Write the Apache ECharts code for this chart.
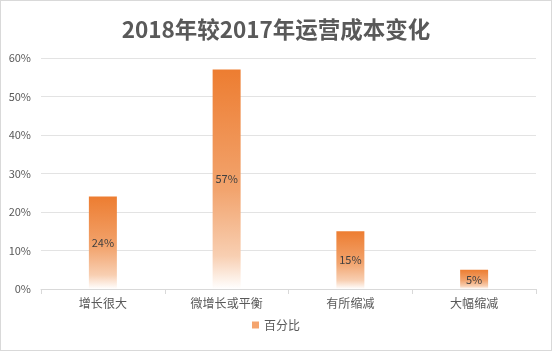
<!DOCTYPE html>
<html>
<head>
<meta charset="utf-8">
<script src="https://cdn.jsdelivr.net/npm/echarts@6/dist/echarts.min.js"></script>
<style>
  html, body { margin: 0; padding: 0; background: #fff; }
  #chart { width: 552px; height: 351px; box-sizing: border-box; border: 1px solid #d9d9d9; }
</style>
</head>
<body>
<div id="chart"></div>
<script>
// values
const categories = ["增长很大", "微增长或平衡", "有所缩减", "大幅缩减"];
const percentValues = [24, 57, 15, 5];
const yTicks = [0, 10, 20, 30, 40, 50, 60];

const chart = echarts.init(document.getElementById("chart"));
const font = "'Microsoft YaHei', 'Noto Sans CJK SC', sans-serif";

chart.setOption({
  animation: false,
  textStyle: { fontFamily: font },
  title: {
    text: "2018年较2017年运营成本变化",
    left: "center",
    top: 12,
    textStyle: { fontSize: 22.5, fontWeight: "bold", color: "#595959", fontFamily: font }
  },
  legend: {
    bottom: 14,
    left: "center",
    itemWidth: 7,
    itemHeight: 7,
    itemGap: 4,
    textStyle: { fontSize: 12, color: "#595959" },
    data: [{ name: "百分比", icon: "rect", itemStyle: { color: "#F4A46E" } }]
  },
  grid: { left: 40, right: 15, top: 57, bottom: 61 },
  xAxis: {
    type: "category",
    data: categories,
    axisLine: { lineStyle: { color: "#d9d9d9" } },
    axisTick: { show: true, length: 5, lineStyle: { color: "#d9d9d9" } },
    axisLabel: { fontSize: 12, color: "#595959", margin: 8 }
  },
  yAxis: {
    type: "value",
    min: yTicks[0],
    max: yTicks[yTicks.length - 1],
    interval: 10,
    axisLine: { show: false },
    axisTick: { show: false },
    axisLabel: { fontSize: 11, color: "#595959", margin: 10, formatter: "{value}%" },
    splitLine: { lineStyle: { color: "#e3e3e3" } }
  },
  series: [{
    name: "百分比",
    type: "bar",
    data: percentValues,
    barWidth: 28,
    itemStyle: {
      color: new echarts.graphic.LinearGradient(0, 0, 0, 1, [
        { offset: 0, color: "#ED7D31" },
        { offset: 0.55, color: "#F2A46E" },
        { offset: 0.85, color: "#F8CFB2" },
        { offset: 1, color: "#ffffff" }
      ])
    },
    label: {
      show: true,
      position: "inside",
      formatter: "{c}%",
      fontSize: 11,
      color: "#404040"
    }
  }]
});
</script>
</body>
</html>
